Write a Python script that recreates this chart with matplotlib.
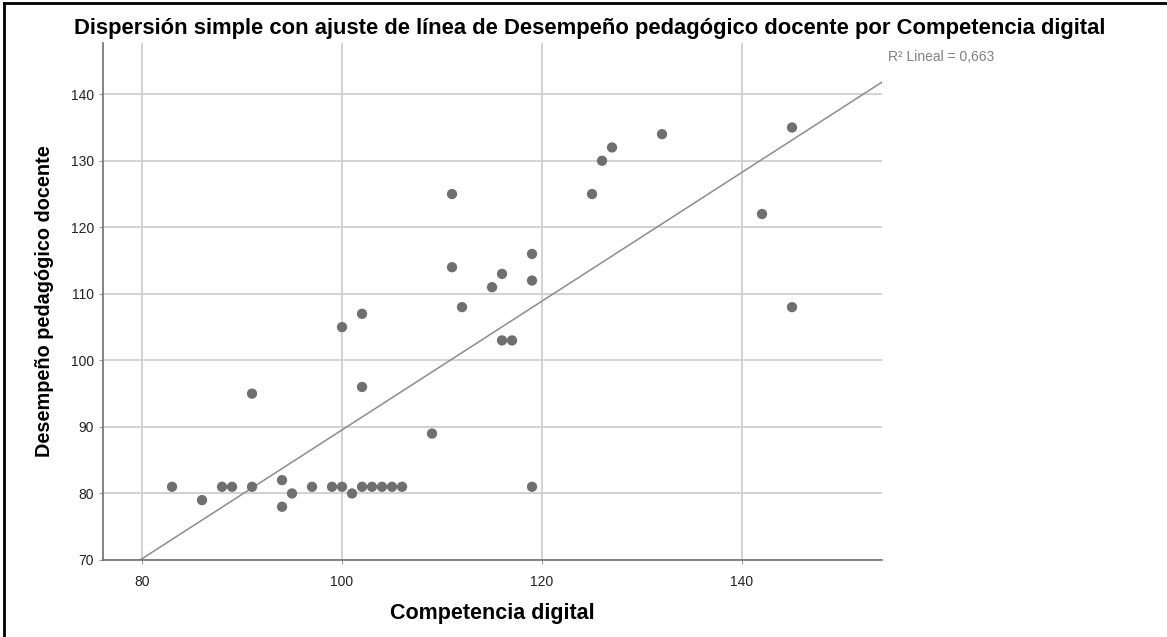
import numpy as np
import matplotlib
matplotlib.use("Agg")
import matplotlib.pyplot as plt
from matplotlib.lines import Line2D

plt.rcParams['font.family'] = ['Liberation Sans', 'DejaVu Sans']

# Competencia digital (x) vs Desempeño pedagógico docente (y)
competencia = [83, 86, 88, 89, 91, 91, 94, 94, 95, 97, 99, 100, 100, 101, 102, 102, 102,
               103, 104, 105, 106, 109, 111, 111, 112, 115, 116, 116, 117, 119, 119, 119,
               125, 126, 127, 132, 142, 145, 145]
desempeno = [81, 79, 81, 81, 81, 95, 82, 78, 80, 81, 81, 81, 105, 80, 81, 107, 96,
             81, 81, 81, 81, 89, 125, 114, 108, 111, 113, 103, 103, 116, 112, 81,
             125, 130, 132, 134, 122, 135, 108]
x_ticks = [80, 100, 120, 140]
y_ticks = [70, 80, 90, 100, 110, 120, 130, 140]

# fitted line as drawn in the chart (overlapping points hide some cases,
# so the visible points alone give a slightly flatter fit)
fit_intercept = -7.25
fit_slope = 0.968
r2_text = 'R² Lineal = 0,663'

x = np.array(competencia)
y = np.array(desempeno)

fig = plt.figure(figsize=(11.67, 6.37), dpi=100)
ax = fig.add_axes([0.0883, 0.1209, 0.6675, 0.8116])

ax.set_xlim(76.1, 154)
ax.set_ylim(70, 147.7)
ax.set_xticks(x_ticks)
ax.set_yticks(y_ticks)
ax.grid(True, color='#cfcfcf', linewidth=1.3)
ax.set_axisbelow(True)

xx = np.array(ax.get_xlim())
ax.plot(xx, fit_intercept + fit_slope * xx, color='#8c8c8c', linewidth=1.1, zorder=2)

ax.scatter(x, y, s=55, color='#6f6f6f', edgecolors='none', zorder=3)

for side in ['top', 'right']:
    ax.spines[side].set_visible(False)
for side in ['left', 'bottom']:
    ax.spines[side].set_color('#707070')
    ax.spines[side].set_linewidth(1.2)
ax.tick_params(length=3, color='#9a9a9a', labelsize=10, labelcolor='#222222')
ax.tick_params(axis='x', pad=8)

ax.set_xlabel('Competencia digital', fontsize=15.5, fontweight='bold', labelpad=10)
ax.set_ylabel('Desempeño pedagógico docente', fontsize=14.3, fontweight='bold', labelpad=12)

fig.text(0.5056, 0.955, 'Dispersión simple con ajuste de línea de Desempeño pedagógico docente por Competencia digital',
         ha='center', va='center', fontsize=15.8, fontweight='bold')
fig.text(0.761, 0.91, r2_text, ha='left', va='center', fontsize=10, color='#808080')

# outer border (top and left only)
fig.add_artist(Line2D([0.003, 0.003], [0, 0.995], transform=fig.transFigure, color='black', linewidth=2))
fig.add_artist(Line2D([0.003, 1], [0.995, 0.995], transform=fig.transFigure, color='black', linewidth=2))

fig.savefig('out.png', dpi=100)
